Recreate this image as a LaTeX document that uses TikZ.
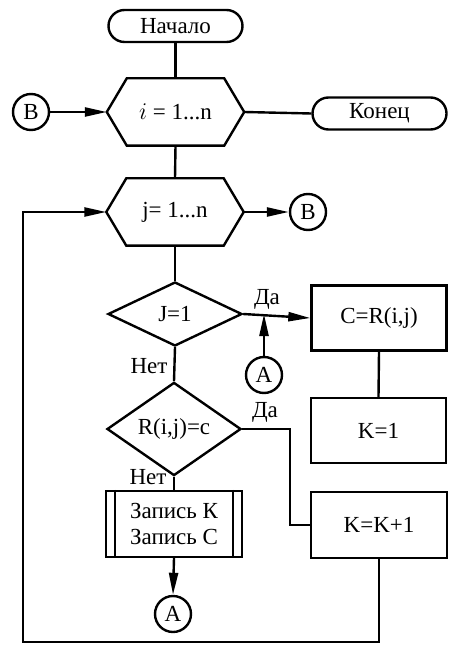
\documentclass[tikz,border=0pt]{standalone}
\usepackage{fontspec}
\setmainfont{Liberation Serif}
\usetikzlibrary{shapes.geometric,arrows.meta}
\newcommand{\hexdraw}[1]{%
  \draw ([xshift=10pt]#1.north west) -- ([xshift=-10pt]#1.north east) -- (#1.east)
    -- ([xshift=-10pt]#1.south east) -- ([xshift=10pt]#1.south west) -- (#1.west) -- cycle;}
\begin{document}
\begin{tikzpicture}[x=0.5pt,y=-0.5pt, line width=1.2pt,
  font=\fontsize{11.5}{13}\selectfont,
  term/.style={draw, rounded corners=8pt, minimum width=67pt, minimum height=16pt, inner sep=0pt},
  box/.style={draw, minimum width=67.5pt, minimum height=32.5pt, inner sep=0pt},
  dec/.style={draw, diamond, minimum width=67pt, minimum height=32pt, inner sep=0pt},
  conn/.style={draw, circle, minimum size=18pt, inner sep=0pt},
  hexn/.style={minimum width=67.5pt, minimum height=32.5pt, inner sep=0pt},
  arr/.style={-{Triangle[length=11pt,width=4.5pt]}},
  lbl/.style={inner sep=1pt}]
\useasboundingbox (0,0) rectangle (449,646);

% nodes
\node[term] (start) at (175.5,26) {Начало};
\node[hexn] (hi) at (175.5,112) {$i$ = 1...n};
\hexdraw{hi}
\node[conn] (b1) at (31,112) {B};
\node[term] (end) at (379.5,113.5) {Конец};
\node[hexn] (hj) at (175,212) {j= 1...n};
\hexdraw{hj}
\node[conn] (b2) at (308,212) {B};
\node[dec] (d1) at (175,314) {J=1};
\node[box] (c) at (379,318) {C=R(i,j)};
\node[conn] (a1) at (264,375) {A};
\node[box] (k1) at (378.5,430.5) {K=1};
\node[dec] (d2) at (174,429) {R(i,j)=c};
\node[box, minimum width=68pt, minimum height=33pt] (k2) at (379,525) {K=K+1};
\node[box, minimum width=68pt, minimum height=33pt, align=center] (z) at (174,524) {Запись К\\Запись С};
\draw ([xshift=5pt]z.north west) -- ([xshift=5pt]z.south west);
\draw ([xshift=-5pt]z.north east) -- ([xshift=-5pt]z.south east);
\node[conn] (a2) at (173,614) {A};

% labels
\node[lbl] (da1) at (267,299) {Да};
\node[lbl] (net1) at (149,366) {Нет};
\node[lbl] (da2) at (265,412) {Да};
\node[lbl] (net2) at (148,477) {Нет};

% coordinates
\coordinate (cr) at (290,525);
\coordinate (cb) at (23,642);

% connectors
\draw (start.south) -- (hi.north);
\draw[arr] (b1.east) -- (hi.west);
\draw (hi.east) -- (end.west);
\draw (hi.south) -- (hj.north);
\draw[arr] (hj.east) -- (b2.west);
\draw (hj.south) -- (d1.north);
\draw[arr] (d1.east) -- (c.west);
\draw[arr] (a1.north) -- (a1.north |- d1.east);
\draw (d1.south) -- (d2.north);
\draw (c.south) -- (k1.north);
\draw (d2.east) -| (cr) -- (k2.west);
\draw (d2.south) -- (z.north);
\draw[arr] (z.south) -- (a2.north);
\draw[arr] (k2.south) |- (cb) |- (hj.west);
\end{tikzpicture}
\end{document}
